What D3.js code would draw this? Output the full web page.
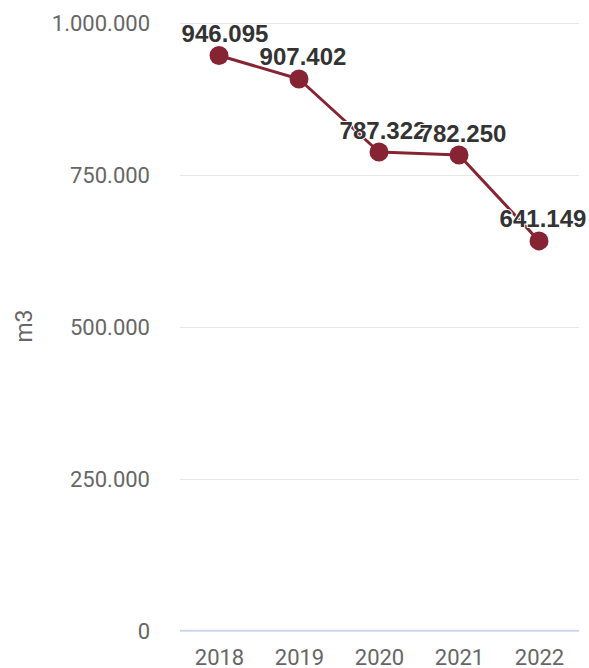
<!DOCTYPE html>
<html>
<head>
<meta charset="utf-8">
<script src="https://cdn.jsdelivr.net/npm/d3@7"></script>
<style>
  html, body { margin: 0; padding: 0; background: #fff; }
  svg { display: block; font-family: Roboto, "Noto Sans", sans-serif; }
</style>
</head>
<body>
<svg id="chart" width="589" height="668"></svg>
<script>
const years = ["2018", "2019", "2020", "2021", "2022"];
const values = [946095, 907402, 787322, 782250, 641149];
const yTicks = [0, 250000, 500000, 750000, 1000000];
const yTitle = "m3";

const locale = d3.formatLocale({ decimal: ",", thousands: ".", grouping: [3], currency: ["", "€"] });
const fmt = locale.format(",.0f");

const svg = d3.select("#chart");
const plot = { left: 180, right: 579, top: 22.7, bottom: 630.7 };

const x = d3.scalePoint().domain(years).range([179, 579]).padding(0.5);
const y = d3.scaleLinear().domain([0, 1000000]).range([plot.bottom, plot.top]);

// gridlines
svg.append("g").selectAll("line").data(yTicks.filter(d => d > 0)).join("line")
  .attr("x1", plot.left).attr("x2", plot.right)
  .attr("y1", d => Math.round(y(d)) + 0.5).attr("y2", d => Math.round(y(d)) + 0.5)
  .attr("stroke", "#e6e6e6").attr("stroke-width", 1);

// baseline
svg.append("line")
  .attr("x1", plot.left).attr("x2", plot.right)
  .attr("y1", y(0)).attr("y2", y(0))
  .attr("stroke", "#ccd6eb").attr("stroke-width", 2);

// y axis labels
const yAxis = d3.axisLeft(y).tickValues(yTicks).tickFormat(fmt).tickSize(0).tickPadding(0);
const gy = svg.append("g").attr("transform", `translate(150,0)`).call(yAxis);
gy.select(".domain").remove();
gy.selectAll("text").attr("fill", "#666").style("font-size", "22px")
  .style("font-family", "Roboto, sans-serif").attr("dy", "0.36em");

// x axis labels
const xAxis = d3.axisBottom(x).tickSize(0).tickPadding(0);
const gx = svg.append("g").attr("transform", `translate(0,${y(0)})`).call(xAxis);
gx.select(".domain").remove();
gx.selectAll("text").attr("fill", "#666").style("font-size", "22px")
  .style("font-family", "Roboto, sans-serif").attr("y", 34).attr("dy", 0);

// y title
svg.append("text")
  .attr("transform", `translate(32,326) rotate(-90)`)
  .attr("text-anchor", "middle")
  .attr("fill", "#666").style("font-size", "23px")
  .text(yTitle);

const data = years.map((yr, i) => ({ yr, v: values[i] }));
const color = "#862433";

// line
svg.append("path").datum(data)
  .attr("fill", "none").attr("stroke", color).attr("stroke-width", 3)
  .attr("stroke-linejoin", "round")
  .attr("d", d3.line().x(d => x(d.yr)).y(d => y(d.v)));

// points
svg.append("g").selectAll("circle").data(data).join("circle")
  .attr("cx", d => x(d.yr)).attr("cy", d => y(d.v)).attr("r", 9.5)
  .attr("fill", color);

// data labels
svg.append("g").selectAll("text").data(data).join("text")
  .attr("x", d => {
    let cx = x(d.yr) + 4;
    const half = 44;
    if (cx - half < 181) cx = 181 + half;
    return cx;
  })
  .attr("y", d => y(d.v) - 13.5)
  .attr("text-anchor", "middle")
  .attr("fill", "#333")
  .attr("stroke", "#fff").attr("stroke-width", 2).attr("stroke-linejoin", "round")
  .style("paint-order", "stroke")
  .style("font-size", "24px").style("font-weight", "bold")
  .style("font-family", "'Liberation Sans', Arial, sans-serif")
  .text(d => fmt(d.v));
</script>
</body>
</html>
